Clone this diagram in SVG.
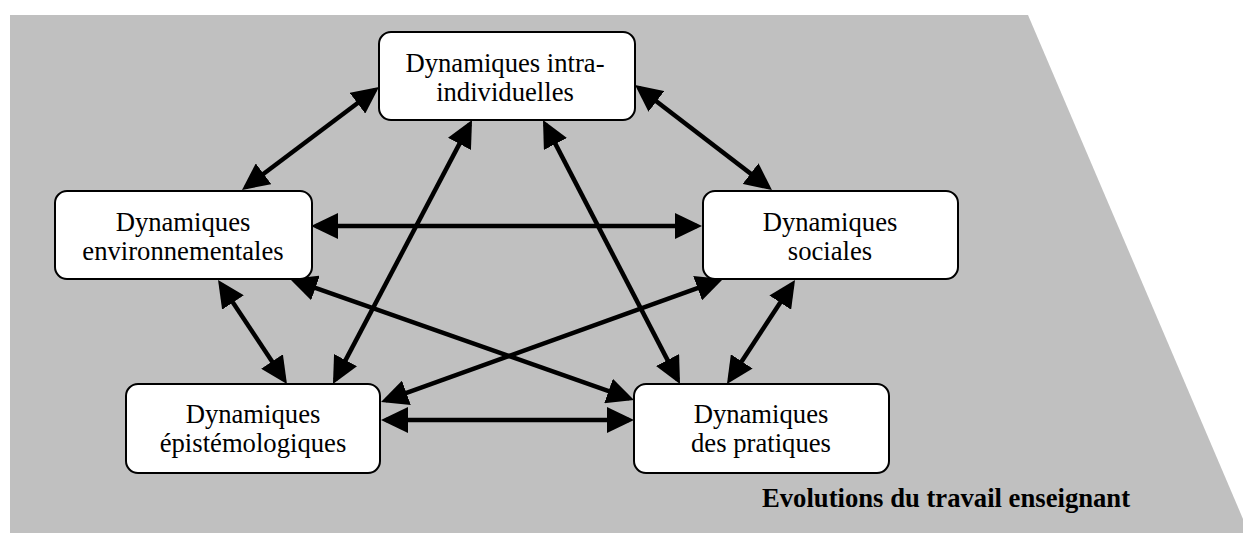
<svg xmlns="http://www.w3.org/2000/svg" width="1243" height="533" viewBox="0 0 1243 533">
  <style>
    .box { fill: #ffffff; stroke: #000000; stroke-width: 2; }
    .lbl { font-family: "Liberation Serif", "Times New Roman", serif; font-size: 26.67px; fill: #000000; text-anchor: middle; }
    .title { font-family: "Liberation Serif", "Times New Roman", serif; font-size: 26.67px; font-weight: bold; fill: #000000; }
    .link { stroke: #000000; stroke-width: 4.5; fill: none; marker-start: url(#head); marker-end: url(#head); }
  </style>
  <defs>
    <marker id="head" markerUnits="userSpaceOnUse" markerWidth="28" markerHeight="26" refX="22" refY="13" orient="auto-start-reverse">
      <path d="M0,0 L27,13 L0,26 Z" fill="#000000"/>
    </marker>
  </defs>

  <!-- backdrop panel -->
  <polygon points="10,15 1028,15 1249,533 10,533" fill="#c0c0c0"/>

  <!-- connectors -->
  <g id="connectors">
    <line class="link" x1="246" y1="187" x2="375" y2="90"/>
    <line class="link" x1="639" y1="88" x2="768" y2="187"/>
    <line class="link" x1="469.7" y1="124.4" x2="335.3" y2="379.6"/>
    <line class="link" x1="545.3" y1="124.4" x2="677.7" y2="379.6"/>
    <line class="link" x1="316" y1="226" x2="697" y2="226"/>
    <line class="link" x1="220.8" y1="284.2" x2="284.2" y2="379.8"/>
    <line class="link" x1="294.7" y1="280.7" x2="629.3" y2="398.3"/>
    <line class="link" x1="718.3" y1="280.7" x2="385.7" y2="400.3"/>
    <line class="link" x1="792.3" y1="284.2" x2="729.7" y2="379.8"/>
    <line class="link" x1="386" y1="420" x2="629" y2="420"/>
  </g>

  <g id="intra">
    <rect class="box" x="379" y="32" width="256" height="88" rx="12"/>
    <text class="lbl" x="505" y="72">Dynamiques intra-</text>
    <text class="lbl" x="505" y="101">individuelles</text>
  </g>

  <g id="environnementales">
    <rect class="box" x="55" y="191" width="257" height="88" rx="12"/>
    <text class="lbl" x="183" y="231">Dynamiques</text>
    <text class="lbl" x="183" y="260">environnementales</text>
  </g>

  <g id="sociales">
    <rect class="box" x="703" y="191" width="255" height="88" rx="12"/>
    <text class="lbl" x="830" y="231">Dynamiques</text>
    <text class="lbl" x="830" y="260">sociales</text>
  </g>

  <g id="epistemologiques">
    <rect class="box" x="126" y="384" width="254" height="89" rx="12"/>
    <text class="lbl" x="253" y="423">Dynamiques</text>
    <text class="lbl" x="253" y="452">épistémologiques</text>
  </g>

  <g id="pratiques">
    <rect class="box" x="634" y="384" width="255" height="89" rx="12"/>
    <text class="lbl" x="761" y="423">Dynamiques</text>
    <text class="lbl" x="761" y="452">des pratiques</text>
  </g>

  <text class="title" x="762" y="507">Evolutions du travail enseignant</text>
</svg>
